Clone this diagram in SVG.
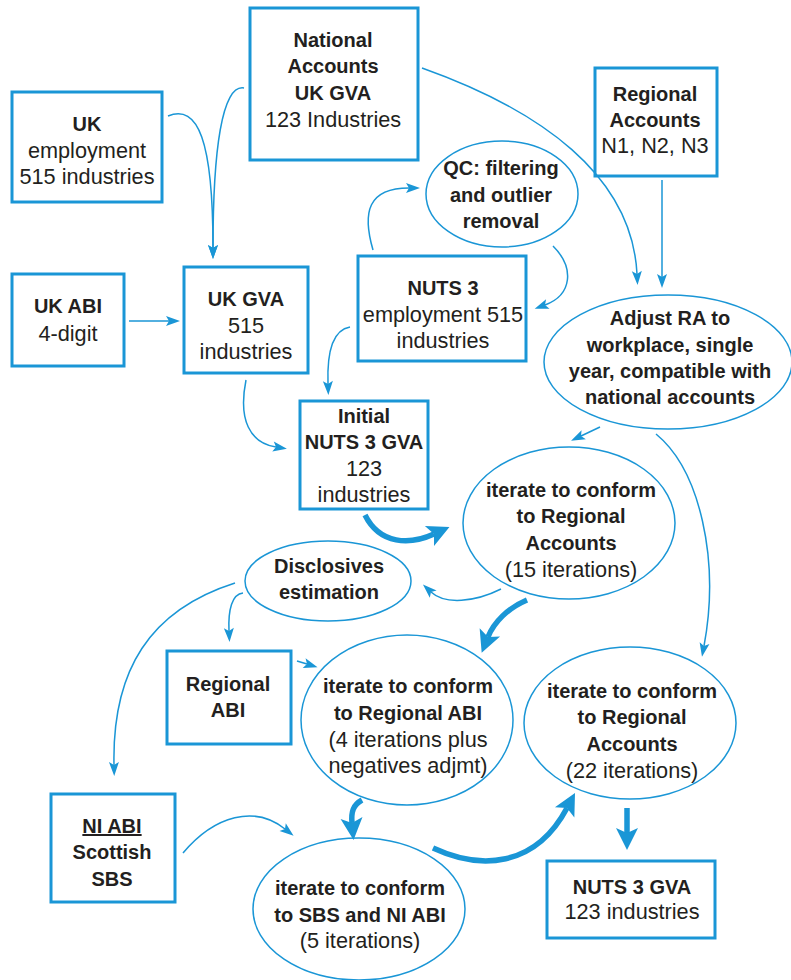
<svg xmlns="http://www.w3.org/2000/svg" width="791" height="980" viewBox="0 0 791 980">
<style>
.box{fill:#fff;stroke:#1a96d6;stroke-width:3}
.ell{fill:#fff;stroke:#1a96d6;stroke-width:1.5}
text{font-family:"Liberation Sans",Arial,sans-serif;fill:#231f20;text-anchor:middle}
.b{font-weight:bold;font-size:20px}
.r{font-size:21.7px}
.thin{fill:none;stroke:#1a96d6;stroke-width:1.5}
.thick{fill:none;stroke:#1a96d6;stroke-width:5.5}
</style>
<defs>
<marker id="ah" markerUnits="userSpaceOnUse" markerWidth="16" markerHeight="12" refX="3" refY="5" orient="auto" overflow="visible">
<path d="M0,0 L14,5 L0,10 L3,5 z" fill="#1a96d6"/>
</marker>
<marker id="ahT" markerUnits="userSpaceOnUse" markerWidth="26" markerHeight="26" refX="5" refY="11" orient="auto" overflow="visible">
<path d="M0,0 L22,11 L0,22 L5,11 z" fill="#1a96d6"/>
</marker>
</defs>
<rect width="791" height="980" fill="#fff"/>

<g id="national-accounts">
<rect class="box" x="250" y="8" width="168" height="152"/>
<text class="b" x="333" y="47">National</text>
<text class="b" x="333" y="73">Accounts</text>
<text class="b" x="333" y="100">UK GVA</text>
<text class="r" x="333" y="127">123 Industries</text>
</g>
<g id="uk-employment">
<rect class="box" x="12" y="92" width="150" height="110"/>
<text class="b" x="87" y="131">UK</text>
<text class="r" x="87" y="158">employment</text>
<text class="r" x="87" y="184">515 industries</text>
</g>
<g id="regional-accounts">
<rect class="box" x="595" y="68" width="122" height="108"/>
<text class="b" x="655" y="101">Regional</text>
<text class="b" x="655" y="127">Accounts</text>
<text class="r" x="655" y="153">N1, N2, N3</text>
</g>
<g id="qc">
<ellipse class="ell" cx="502" cy="194" rx="76" ry="53"/>
<text class="b" x="501" y="175">QC: filtering</text>
<text class="b" x="501" y="202">and outlier</text>
<text class="b" x="501" y="228">removal</text>
</g>
<g id="uk-abi">
<rect class="box" x="12" y="274" width="112" height="92"/>
<text class="b" x="68" y="313">UK ABI</text>
<text class="r" x="68" y="341">4-digit</text>
</g>
<g id="uk-gva">
<rect class="box" x="184" y="267" width="124" height="106"/>
<text class="b" x="246" y="306">UK GVA</text>
<text class="r" x="246" y="333">515</text>
<text class="r" x="246" y="359">industries</text>
</g>
<g id="nuts3">
<rect class="box" x="358" y="256" width="168" height="105"/>
<text class="b" x="443" y="295">NUTS 3</text>
<text class="r" x="443" y="322">employment 515</text>
<text class="r" x="443" y="348">industries</text>
</g>
<g id="initial-nuts3-gva">
<rect class="box" x="300" y="401" width="128" height="108"/>
<text class="b" x="364" y="423">Initial</text>
<text class="b" x="364" y="449">NUTS 3 GVA</text>
<text class="r" x="364" y="476">123</text>
<text class="r" x="364" y="502">industries</text>
</g>
<g id="adjust-ra">
<ellipse class="ell" cx="668" cy="362" rx="124" ry="67"/>
<text class="b" x="670" y="325">Adjust RA to</text>
<text class="b" x="670" y="352">workplace, single</text>
<text class="b" x="670" y="378">year, compatible with</text>
<text class="b" x="670" y="404">national accounts</text>
</g>
<g id="iterate-ra-15">
<ellipse class="ell" cx="569" cy="523" rx="106" ry="76"/>
<text class="b" x="571" y="497">iterate to conform</text>
<text class="b" x="571" y="523">to Regional</text>
<text class="b" x="571" y="550">Accounts</text>
<text class="r" x="571" y="577">(15 iterations)</text>
</g>
<g id="disclosives">
<ellipse class="ell" cx="328" cy="581" rx="83" ry="40"/>
<text class="b" x="329" y="573">Disclosives</text>
<text class="b" x="329" y="599">estimation</text>
</g>
<g id="regional-abi">
<rect class="box" x="167" y="651" width="124" height="93"/>
<text class="b" x="228" y="691">Regional</text>
<text class="b" x="228" y="717">ABI</text>
</g>
<g id="iterate-abi">
<ellipse class="ell" cx="407" cy="720" rx="106" ry="85"/>
<text class="b" x="408" y="693">iterate to conform</text>
<text class="b" x="408" y="720">to Regional ABI</text>
<text class="r" x="408" y="747">(4 iterations plus</text>
<text class="r" x="408" y="773">negatives adjmt)</text>
</g>
<g id="iterate-ra-22">
<ellipse class="ell" cx="630" cy="723" rx="106" ry="76"/>
<text class="b" x="632" y="698">iterate to conform</text>
<text class="b" x="632" y="724">to Regional</text>
<text class="b" x="632" y="751">Accounts</text>
<text class="r" x="632" y="778">(22 iterations)</text>
</g>
<g id="ni-abi">
<rect class="box" x="51" y="794" width="124" height="108"/>
<text class="b" x="112" y="833" text-decoration="underline">NI ABI</text>
<text class="b" x="112" y="859">Scottish</text>
<text class="b" x="112" y="886">SBS</text>
</g>
<g id="iterate-sbs">
<ellipse class="ell" cx="359" cy="909" rx="106" ry="71"/>
<text class="b" x="360" y="895">iterate to conform</text>
<text class="b" x="360" y="922">to SBS and NI ABI</text>
<text class="r" x="360" y="948">(5 iterations)</text>
</g>
<g id="nuts3-gva">
<rect class="box" x="547" y="861" width="168" height="77"/>
<text class="b" x="632" y="894">NUTS 3 GVA</text>
<text class="r" x="632" y="919">123 industries</text>
</g>

<g id="connectors">
<path class="thin" d="M168,116 C198,104 213,140 213,248" marker-end="url(#ah)"/>
<path class="thin" d="M244,88 C222,84 213,150 213,248" marker-end="url(#ah)"/>
<path class="thin" d="M129,321 L169,321" marker-end="url(#ah)"/>
<path class="thin" d="M422,68 C540,110 632,175 637,274" marker-end="url(#ah)"/>
<path class="thin" d="M662,180 L662,277" marker-end="url(#ah)"/>
<path class="thin" d="M373,250 C362,212 368,188 409,188" marker-end="url(#ah)"/>
<path class="thin" d="M553,246 C575,268 572,295 545,305" marker-end="url(#ah)"/>
<path class="thin" d="M350,327 C332,330 327,355 328,384" marker-end="url(#ah)"/>
<path class="thin" d="M246,380 C238,420 250,443 276,447" marker-end="url(#ah)"/>
<path class="thin" d="M600,427 L581,436" marker-end="url(#ah)"/>
<path class="thin" d="M656,434 C700,470 720,560 704,646" marker-end="url(#ah)"/>
<path class="thin" d="M501,589 C475,602 445,605 431,592" marker-end="url(#ah)"/>
<path class="thin" d="M243,593 C232,594 228,610 229,631" marker-end="url(#ah)"/>
<path class="thin" d="M235,583 C150,610 112,670 114,765" marker-end="url(#ah)"/>
<path class="thin" d="M297,661 L307,664" marker-end="url(#ah)"/>
<path class="thin" d="M183,853 C215,815 255,805 285,829" marker-end="url(#ah)"/>
<path class="thick" d="M365,515 C380,545 410,545 434,534" marker-end="url(#ahT)"/>
<path class="thick" d="M527,600 C508,608 494,622 488,637" marker-end="url(#ahT)"/>
<path class="thick" d="M362,800 C353,805 351,812 352,823" marker-end="url(#ahT)"/>
<path class="thick" d="M433,848 C480,870 535,868 567,808" marker-end="url(#ahT)"/>
<path class="thick" d="M627,808 L627,833" marker-end="url(#ahT)"/>
</g>
</svg>
